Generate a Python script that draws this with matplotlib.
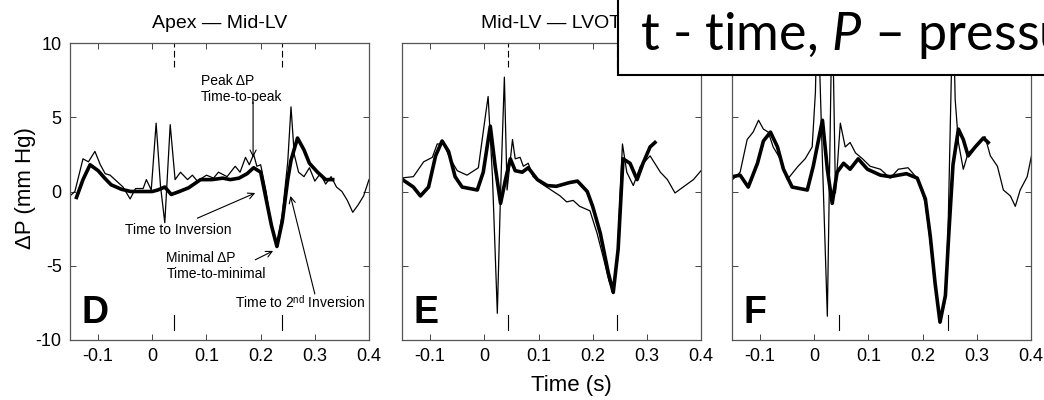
import numpy as np
import matplotlib
matplotlib.use('Agg')
import matplotlib.pyplot as plt
from matplotlib.patches import Rectangle

plt.rcParams['font.family'] = ['Liberation Sans', 'DejaVu Sans']
plt.rcParams['axes.unicode_minus'] = False
plt.rcParams['mathtext.fontset'] = 'custom'
plt.rcParams['mathtext.rm'] = 'Liberation Sans'
plt.rcParams['mathtext.it'] = 'Lato:italic'

# panel D : Apex - Mid-LV
t_thin_d = [-0.152, -0.143, -0.128, -0.118, -0.106, -0.096, -0.087, -0.078, -0.063, -0.054,
            -0.041, -0.031, -0.017, -0.011, -0.002, 0.007, 0.015, 0.023, 0.033, 0.042,
            0.052, 0.065, 0.074, 0.083, 0.1, 0.113, 0.122, 0.138, 0.153, 0.162,
            0.172, 0.179, 0.187, 0.193, 0.2, 0.21, 0.22, 0.23, 0.24, 0.25,
            0.256, 0.262, 0.27, 0.28, 0.29, 0.3, 0.31, 0.32, 0.33, 0.34,
            0.35, 0.36, 0.37, 0.38, 0.39, 0.4]
p_thin_d = [-0.3, 0.0, 2.2, 2.0, 2.7, 1.8, 1.2, 1.1, 0.6, 0.3,
            -0.5, 0.2, 0.2, 0.8, 0.1, 4.6, 0.4, -2.1, 4.5, 0.8,
            1.3, 0.8, 1.1, 0.7, 1.1, 0.9, 1.3, 1.0, 1.7, 1.3,
            2.3, 1.8, 2.5, 1.7, 1.8, 0.0, -2.4, -3.6, -1.5, 2.0,
            5.7, 2.5, 1.3, 1.0, 1.6, 0.7, 1.2, 0.5, 1.0, 0.3,
            0.0, -0.6, -1.4, -0.9, -0.3, 0.8]
t_thick_d = [-0.14, -0.128, -0.115, -0.1, -0.088, -0.076, -0.057, -0.04, -0.02, 0.0,
             0.01, 0.023, 0.035, 0.05, 0.067, 0.089, 0.11, 0.13, 0.144, 0.16,
             0.175, 0.187, 0.2, 0.21, 0.22, 0.23, 0.24, 0.25, 0.256, 0.268,
             0.28, 0.29, 0.305, 0.32, 0.333]
p_thick_d = [-0.4, 0.8, 1.8, 1.4, 0.9, 0.45, 0.15, 0.0, 0.0, 0.0,
             0.1, 0.3, -0.2, 0.0, 0.25, 0.8, 0.8, 0.9, 0.8, 0.9,
             1.2, 1.6, 1.3, -0.5, -2.3, -3.7, -2.0, 0.8, 2.1, 3.6,
             2.8, 1.9, 1.3, 0.8, 0.8]

# panel E : Mid-LV - LVOT
t_thin_e = [-0.155, -0.131, -0.112, -0.096, -0.087, -0.075, -0.063, -0.05, -0.032, -0.011,
            0.002, 0.007, 0.015, 0.024, 0.03, 0.037, 0.042, 0.052, 0.057, 0.066,
            0.072, 0.081, 0.09, 0.103, 0.115, 0.14, 0.152, 0.164, 0.176, 0.195,
            0.208, 0.22, 0.23, 0.238, 0.246, 0.255, 0.263, 0.275, 0.288, 0.306,
            0.325, 0.338, 0.352, 0.367, 0.386, 0.4]
p_thin_e = [0.9, 1.0, 2.0, 2.3, 3.2, 3.2, 2.2, 1.4, 1.1, 1.6,
            5.1, 6.4, 1.0, -8.2, 0.0, 7.7, 0.1, 3.5, 2.2, 2.3,
            1.7, 1.9, 1.0, 0.6, 0.3, -0.3, -0.7, -0.6, -1.0, -1.3,
            -2.8, -4.5, -6.0, -6.8, -4.0, 3.2, 1.3, 0.4, 1.7, 2.4,
            1.3, 0.8, -0.1, 0.3, 0.8, 1.4]
t_thick_e = [-0.151, -0.131, -0.118, -0.103, -0.09, -0.078, -0.066, -0.054, -0.041, -0.013,
             -0.002, 0.011, 0.02, 0.03, 0.039, 0.048, 0.057, 0.07, 0.081, 0.098,
             0.116, 0.133, 0.157, 0.172, 0.19, 0.2, 0.214, 0.229, 0.238, 0.247,
             0.256, 0.269, 0.282, 0.293, 0.306, 0.315]
p_thick_e = [0.8, 0.3, -0.3, 0.3, 2.4, 3.4, 2.7, 1.0, 0.3, 0.1,
             1.3, 4.4, 1.7, -0.8, 0.8, 2.2, 1.4, 1.3, 1.6, 0.8,
             0.4, 0.35, 0.6, 0.7, 0.0, -1.0, -2.8, -5.5, -6.8, -3.9,
             2.2, 1.9, 0.8, 1.9, 3.0, 3.3]

# panel F
t_thin_f = [-0.151, -0.137, -0.124, -0.113, -0.103, -0.094, -0.085, -0.076, -0.063, -0.05,
            -0.039, -0.03, -0.017, -0.004, 0.002, 0.006, 0.015, 0.024, 0.033, 0.039,
            0.048, 0.057, 0.066, 0.076, 0.089, 0.103, 0.122, 0.14, 0.155, 0.173,
            0.192, 0.205, 0.214, 0.223, 0.232, 0.242, 0.247, 0.256, 0.26, 0.266,
            0.275, 0.284, 0.297, 0.306, 0.315, 0.325, 0.338, 0.349, 0.362, 0.371,
            0.38, 0.393, 0.402]
p_thin_f = [0.8, 1.3, 3.5, 4.0, 4.8, 4.2, 4.0, 3.0, 2.2, 0.8,
            1.3, 1.7, 2.2, 3.0, 6.7, 13.0, 2.0, -8.4, 13.0, -0.1,
            4.6, 3.0, 3.3, 2.6, 2.2, 1.7, 1.5, 0.9, 1.5, 1.6,
            0.8, -0.8, -3.4, -6.4, -8.8, -7.3, -2.4, 13.0, 6.2, 3.3,
            1.5, 2.6, 3.0, 3.3, 3.7, 2.4, 1.7, 0.1, -0.3, -1.0,
            0.1, 1.0, 2.6]
t_thick_f = [-0.151, -0.137, -0.122, -0.105, -0.094, -0.081, -0.068, -0.057, -0.041, -0.013,
             -0.002, 0.015, 0.024, 0.033, 0.042, 0.054, 0.066, 0.081, 0.098, 0.122,
             0.14, 0.17, 0.19, 0.205, 0.214, 0.223, 0.232, 0.242, 0.248, 0.256,
             0.266, 0.275, 0.284, 0.297, 0.312, 0.321]
p_thick_f = [1.0, 1.1, 0.3, 1.9, 3.4, 4.0, 3.0, 1.5, 0.3, 0.1,
             1.7, 4.8, 1.5, -0.8, 1.3, 1.9, 1.5, 2.2, 1.5, 1.1,
             1.0, 1.2, 0.9, -0.5, -3.0, -6.2, -8.8, -7.0, -3.0, 1.8,
             4.2, 3.5, 2.4, 3.0, 3.6, 3.3]

titles = ['Apex \u2014 Mid-LV', 'Mid-LV \u2014 LVOT', '']
letters = ['D', 'E', 'F']
markers = [[0.04, 0.24], [0.044, 0.245], [0.046, 0.247]]
xticks = [-0.1, 0, 0.1, 0.2, 0.3, 0.4]
xtick_labels = ['-0.1', '0', '0.1', '0.2', '0.3', '0.4']
yticks = [-10, -5, 0, 5, 10]

panels = [(t_thin_d, p_thin_d, t_thick_d, p_thick_d),
          (t_thin_e, p_thin_e, t_thick_e, p_thick_e),
          (t_thin_f, p_thin_f, t_thick_f, p_thick_f)]
lefts = [70, 402, 732]

fig = plt.figure(figsize=(10.44, 4.0), dpi=100)
axes = []
for i, (tt, pt, tk, pk) in enumerate(panels):
    ax = fig.add_axes([lefts[i] / 1044, 60 / 400, 299 / 1044, 297 / 400])
    ax.plot(tt, pt, color='black', lw=0.9)
    ax.plot(tk, pk, color='black', lw=2.6, solid_joinstyle='round')
    for m in markers[i]:
        ax.axvline(m, ymin=0.92, ymax=1.0, color='black', lw=0.8, ls=(0, (6, 3)))
        ax.axvline(m, ymin=0.035, ymax=0.085, color='black', lw=0.8)
    ax.set_xlim(-0.152, 0.4)
    ax.set_ylim(-10, 10)
    ax.set_xticks(xticks)
    ax.set_xticklabels(xtick_labels)
    ax.set_yticks(yticks)
    if i > 0:
        ax.set_yticklabels([])
    ax.tick_params(direction='in', top=True, right=True, length=4, width=0.7,
                   labelsize=13, pad=6, color='#444444')
    for s in ax.spines.values():
        s.set_color('#555555')
        s.set_linewidth(0.9)
    if titles[i]:
        ax.set_title(titles[i], fontsize=14, pad=11)
    ax.text(0.04, 0.057, letters[i], transform=ax.transAxes, fontsize=27,
            fontweight='bold', ha='left', va='baseline')
    axes.append(ax)

ax = axes[0]
afs = 10
ap = dict(arrowstyle='->', lw=0.8, color='black', mutation_scale=11, shrinkA=0, shrinkB=0)
ax.text(0.089, 7.9, 'Peak \u0394P\nTime-to-peak', fontsize=afs, ha='left', va='top')
ax.annotate('', xy=(0.186, 2.3), xytext=(0.186, 6.0), arrowprops=ap)
ax.text(-0.05, -2.6, 'Time to Inversion', fontsize=afs, ha='left', va='center')
ax.annotate('', xy=(0.19, -0.1), xytext=(0.083, -1.8), arrowprops=ap)
ax.text(0.026, -4.0, 'Minimal \u0394P\nTime-to-minimal', fontsize=afs, ha='left', va='top')
ax.annotate('', xy=(0.223, -4.0), xytext=(0.19, -4.6), arrowprops=ap)
ax.text(0.153, -7.5, r'Time to 2$^{\mathrm{nd}}$ Inversion', fontsize=afs, ha='left', va='center')
ax.annotate('', xy=(0.255, -0.3), xytext=(0.3, -6.9), arrowprops=ap)

fig.text(25 / 1044, 1 - 188 / 400, '\u0394P (mm Hg)', rotation=90, fontsize=16,
         ha='center', va='center')
fig.text(571 / 1044, 1 - 386 / 400, 'Time (s)', fontsize=16, ha='center', va='center')

# overlay box with the legend text
box = Rectangle((618 / 1044, 1 - 75 / 400), 0.5, 0.3, transform=fig.transFigure,
                facecolor='white', edgecolor='black', lw=1.5, zorder=10)
fig.patches.append(box)
fig.text(640 / 1044, 1 - 50 / 400, 't - time, $P$ \u2013 pressure', fontsize=37.5,
         family='Lato', ha='left', va='baseline', zorder=11)

fig.savefig('out.png', dpi=100)
